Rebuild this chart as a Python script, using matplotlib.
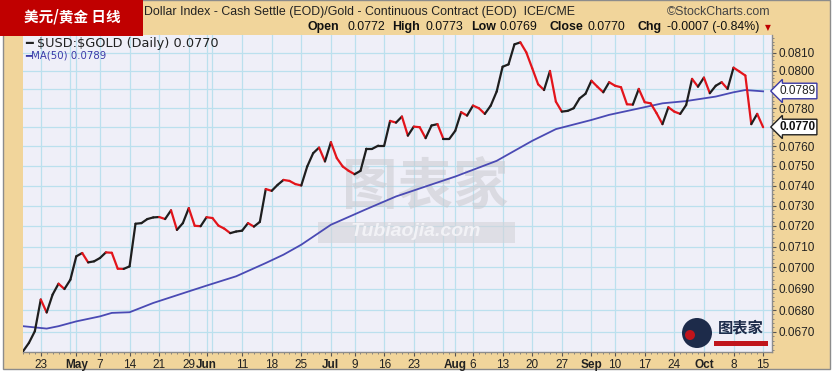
import matplotlib
matplotlib.use("Agg")
import matplotlib.pyplot as plt
from matplotlib.collections import LineCollection
from matplotlib.patches import Rectangle, Ellipse
from matplotlib.ticker import FixedLocator, FixedFormatter, NullFormatter
import numpy as np
import pandas as pd

plt.rcParams['font.family'] = ['Liberation Sans', 'Noto Sans CJK SC', 'DejaVu Sans']

# ---- data ----
holidays = ['2018-05-28', '2018-07-04', '2018-09-03']

price = [0.06612, 0.06650, 0.06703, 0.06849, 0.06789, 0.06872, 0.06923, 0.06898, 0.06942, 0.07053,
         0.07069, 0.07024, 0.07029, 0.07045, 0.07072, 0.07070, 0.06994, 0.06993, 0.07005, 0.07211,
         0.07214, 0.07234, 0.07242, 0.07244, 0.07234, 0.07277, 0.07181, 0.07214, 0.07288, 0.07201,
         0.07199, 0.07243, 0.07239, 0.07202, 0.07187, 0.07165, 0.07173, 0.07177, 0.07214, 0.07197,
         0.07220, 0.07383, 0.07374, 0.07404, 0.07429, 0.07424, 0.07408, 0.07401, 0.07497, 0.07565,
         0.07594, 0.07523, 0.07622, 0.07540, 0.07497, 0.07475, 0.07458, 0.07475, 0.07588, 0.07588,
         0.07604, 0.07604, 0.07733, 0.07724, 0.07756, 0.07656, 0.07703, 0.07700, 0.07643, 0.07709,
         0.07716, 0.07639, 0.07639, 0.07681, 0.07779, 0.07761, 0.07814, 0.07800, 0.07770, 0.07814,
         0.07889, 0.08023, 0.08036, 0.08146, 0.08157, 0.08102, 0.08015, 0.07928, 0.07897, 0.08000,
         0.07835, 0.07782, 0.07786, 0.07800, 0.07852, 0.07877, 0.07947, 0.07915, 0.07885, 0.07939,
         0.07920, 0.07912, 0.07821, 0.07819, 0.07903, 0.07832, 0.07826, 0.07774, 0.07716, 0.07805,
         0.07782, 0.07770, 0.07817, 0.07957, 0.07915, 0.07964, 0.07880, 0.07920, 0.07939, 0.07903,
         0.08018, 0.07997, 0.07975, 0.07716, 0.07770, 0.07700]

ma_idx = [0, 4, 6, 9, 13, 15, 18, 22, 28, 31, 36, 41, 44, 47, 52, 58, 63, 69, 73, 80,
          86, 90, 96, 99, 103, 108, 112, 117, 120, 122, 125]
ma_val = [0.06726, 0.06715, 0.06726, 0.06748, 0.06771, 0.06787, 0.06790, 0.06833, 0.06887, 0.06914,
          0.06958, 0.07021, 0.07061, 0.07109, 0.07206, 0.07283, 0.07346, 0.07406, 0.07446, 0.07526,
          0.07629, 0.07690, 0.07738, 0.07765, 0.07792, 0.07826, 0.07838, 0.07862, 0.07885, 0.07897,
          0.07890]

tick_days = ['2018-04-23', '2018-05-01', '2018-05-07', '2018-05-14', '2018-05-21', '2018-05-29',
             '2018-06-01', '2018-06-11', '2018-06-18', '2018-06-25', '2018-07-02', '2018-07-09',
             '2018-07-16', '2018-07-23', '2018-08-01', '2018-08-06', '2018-08-13', '2018-08-20',
             '2018-08-27', '2018-09-04', '2018-09-10', '2018-09-17', '2018-09-24', '2018-10-01',
             '2018-10-08', '2018-10-15']
tick_labels = ['23', 'May', '7', '14', '21', '29', 'Jun', '11', '18', '25', 'Jul', '9', '16', '23',
               'Aug', '6', '13', '20', '27', 'Sep', '10', '17', '24', 'Oct', '8', '15']
month_names = ['May', 'Jun', 'Jul', 'Aug', 'Sep', 'Oct']

y_ticks = [0.0670, 0.0680, 0.0690, 0.0700, 0.0710, 0.0720, 0.0730, 0.0740,
           0.0750, 0.0760, 0.0770, 0.0780, 0.0790, 0.0800, 0.0810]
# labels hidden behind the value flags
y_hidden = [0.0770, 0.0790]

last_close = 0.0770
last_ma = 0.0789

# ---- trading days ----
days = pd.bdate_range('2018-04-18', '2018-10-15')
days = days[~days.isin(pd.to_datetime(holidays))]
x = np.arange(len(days))
day_pos = {d.strftime('%Y-%m-%d'): i for i, d in enumerate(days)}

grid_x = []
for i in range(1, len(days)):
    if days[i].weekday() < days[i - 1].weekday() or days[i].month != days[i - 1].month:
        grid_x.append(i)

TAN = '#F1D59B'
W, H = 836, 372


def px(xp, yp):
    return xp / W, 1 - yp / H


fig = plt.figure(figsize=(8.36, 3.72), dpi=100, facecolor='white')
fig.patches.append(Rectangle((3 / W, 1 - 369 / H), 827 / W, 369 / H, transform=fig.transFigure,
                             facecolor=TAN, edgecolor='#8C8C8C', linewidth=1, zorder=-5))

ax = fig.add_axes([23 / W, 1 - 352 / H, 749 / W, 317 / H])
ax.set_facecolor('#EFEFF8')
ax.set_yscale('log')
ax.set_xlim(0.3, 126.5)
ax.set_ylim(0.06609, 0.08198)

# grid
for g in grid_x:
    ax.axvline(g, color='#BBE0EE', linewidth=0.9, zorder=0.5)
for v in y_ticks:
    ax.axhline(v, color='#BBE0EE', linewidth=0.9, zorder=0.5)

# watermark
ax.text(*px(425, 188), '图表家', transform=fig.transFigure, fontsize=40, color='#C9C9CF',
        family=['Noto Sans CJK SC'], fontweight='bold', ha='center', va='center', zorder=1, alpha=0.55)
ax.add_patch(Rectangle(px(318, 243), 197 / W, 21 / H, transform=fig.transFigure,
                       facecolor='#D3D3D9', edgecolor='none', zorder=1, alpha=0.6))
ax.text(*px(416, 232), 'Tubiaojia.com', transform=fig.transFigure, fontsize=14, color='#F2F2F6',
        fontweight='bold', style='italic', ha='center', va='center', zorder=1.1)

# MA(50)
ax.plot(ma_idx, ma_val, color='#4A4AB4', linewidth=1.3, zorder=2)

# price line, black up / red down
pts = np.column_stack([x, price])
segs = np.stack([pts[:-1], pts[1:]], axis=1)
cols = ['#1E1E1E' if price[i + 1] >= price[i] else '#E3141B' for i in range(len(price) - 1)]
lc = LineCollection(segs, colors=cols, linewidths=1.6, zorder=3, capstyle='round', joinstyle='round')
ax.add_collection(lc)

# axes styling
for s in ['top', 'left']:
    ax.spines[s].set_visible(False)
for s in ['bottom', 'right']:
    ax.spines[s].set_color('#8C8C8C')
    ax.spines[s].set_linewidth(1)

ax.yaxis.tick_right()
ax.yaxis.set_major_locator(FixedLocator(y_ticks))
ax.yaxis.set_major_formatter(FixedFormatter(['' if v in y_hidden else '%.4f' % v for v in y_ticks]))
ax.yaxis.set_minor_locator(FixedLocator(np.arange(0.0662, 0.0820, 0.0002)))
ax.yaxis.set_minor_formatter(NullFormatter())
ax.tick_params(axis='y', which='major', length=3, width=0.8, color='#555555', pad=2,
               labelsize=8.5, labelcolor='#222222')
ax.tick_params(axis='y', which='minor', length=1.5, width=0.6, color='#777777')

tpos = [day_pos[d] for d in tick_days]
ax.set_xticks(tpos)
ax.set_xticklabels(tick_labels)
for lab in ax.get_xticklabels():
    if lab.get_text() in month_names:
        lab.set_fontweight('bold')
ax.set_xticks(x, minor=True)
ax.tick_params(axis='x', which='major', length=3, width=0.8, color='#555555', pad=2,
               labelsize=8.5, labelcolor='#222222')
ax.tick_params(axis='x', which='minor', length=1.5, width=0.6, color='#777777')

# legend inside plot
ax.text(*px(25, 43), '━ \\$USD:\\$GOLD (Daily) %.4f' % last_close, transform=fig.transFigure,
        fontsize=9.3, family=['DejaVu Sans'], color='#222222', va='center', ha='left', zorder=5)
ax.text(*px(25, 56), '━MA(50) %.4f' % last_ma, transform=fig.transFigure, fontsize=7.3,
        family=['DejaVu Sans'], color='#3A3AA8', va='center', ha='left', zorder=5)

# right value flags
fig.text(*px(779, 91), '%.4f' % last_ma, fontsize=8.5, color='#222222', va='center', ha='left',
         bbox=dict(boxstyle='larrow,pad=0.15', facecolor='white', edgecolor='#3A3AA8', linewidth=1))
fig.text(*px(779, 127), '%.4f' % last_close, fontsize=8.5, color='#111111', fontweight='bold',
         va='center', ha='left',
         bbox=dict(boxstyle='larrow,pad=0.15', facecolor='white', edgecolor='#222222', linewidth=1))

# header
fig.patches.append(Rectangle((0, 1 - 36 / H), 143 / W, 36 / H, transform=fig.transFigure,
                             facecolor='#C00000', edgecolor='none', zorder=5))
fig.text(*px(72, 16), '美元/黄金 日线', fontsize=10.5, color='white', fontweight='bold',
         family=['Noto Sans CJK SC'], ha='center', va='center', zorder=6)
fig.text(*px(144, 12), 'Dollar Index - Cash Settle (EOD)/Gold - Continuous Contract (EOD)  ICE/CME',
         fontsize=8.9, color='#222222', ha='left', va='center')
fig.text(*px(667, 12), '©StockCharts.com', fontsize=8.9, color='#444444', ha='left', va='center')

hdr = [(308, 'Open', True), (347, '0.0772', False), (392, 'High', True), (425, '0.0773', False),
       (471, 'Low', True), (500, '0.0769', False), (549, 'Close', True), (588, '0.0770', False),
       (637, 'Chg', True), (667, '-0.0007 (-0.84%)', False)]
for xp, t, b in hdr:
    fig.text(*px(xp, 27), t, fontsize=8.9, color='#111111', ha='left', va='center',
             fontweight='bold' if b else 'normal')
fig.text(*px(768, 28), '▼', fontsize=5.5, color='#C00000', ha='center', va='center',
         family=['DejaVu Sans'])

# small logo bottom right
ax.add_patch(Ellipse(px(697, 333), 30 / W, 30 / H, transform=fig.transFigure,
                     facecolor='#1D2B4A', edgecolor='none', zorder=6))
ax.add_patch(Ellipse(px(690, 335), 10 / W, 10 / H, transform=fig.transFigure,
                     facecolor='#C0141B', edgecolor='none', zorder=6.1))
ax.text(*px(741, 327), '图表家', transform=fig.transFigure, fontsize=11, color='#1D2B4A',
        family=['Noto Sans CJK SC'], fontweight='bold', ha='center', va='center', zorder=6)
ax.add_patch(Rectangle(px(714, 346), 54 / W, 5 / H, transform=fig.transFigure,
                       facecolor='#C0141B', edgecolor='none', zorder=6))

fig.savefig('out.png', dpi=100, facecolor=fig.get_facecolor())
